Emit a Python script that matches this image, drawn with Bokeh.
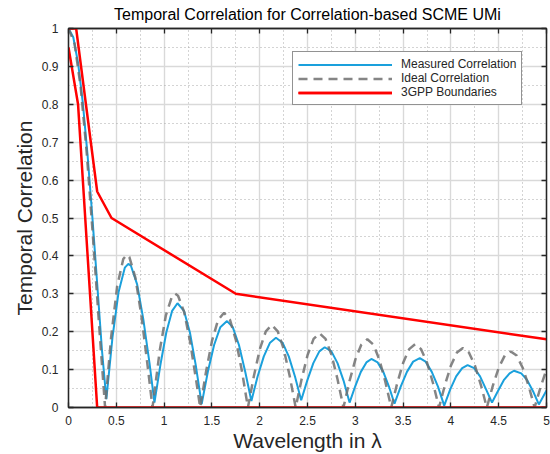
from bokeh.plotting import figure
from bokeh.models import (Range1d, LinearAxis, SingleIntervalTicker,
                          CustomJSTickFormatter, Legend, LegendItem)
from bokeh.embed import file_html
from bokeh.resources import INLINE

# ---- data ----
ideal_x = [0, 0.0637, 0.1273, 0.191, 0.2546, 0.3183, 0.3827,
           0.4456, 0.5093, 0.573, 0.6098, 0.6366, 0.7003, 0.7639, 0.8276, 0.8786,
           0.9549, 1.0186, 1.0823, 1.1166, 1.1459, 1.2096, 1.2732, 1.3369, 1.3773,
           1.4397, 1.5022, 1.5646, 1.627, 1.6894, 1.7519, 1.8143, 1.8767,
           1.9392, 2.0016, 2.0641, 2.1265, 2.189, 2.2514, 2.3139, 2.3763,
           2.4388, 2.5013, 2.5637, 2.6262, 2.6887, 2.7512, 2.8136, 2.8761,
           2.9386, 3.0011, 3.0635, 3.126, 3.1885, 3.251, 3.3134, 3.3759,
           3.4384, 3.5009, 3.5634, 3.6259, 3.6883, 3.7508, 3.8133, 3.8758,
           3.9383, 4.0008, 4.0632, 4.1257, 4.1882, 4.2507, 4.3132, 4.3757,
           4.4382, 4.5007, 4.5632, 4.6257, 4.6881, 4.7506, 4.8131, 4.8756,
           4.9381, 5.0]
ideal_y = [1.0, 0.960, 0.846, 0.671, 0.455, 0.224, 0.0,
           0.185, 0.320, 0.392, 0.403, 0.397, 0.342, 0.240, 0.110, 0.0,
           0.151, 0.243, 0.293, 0.300, 0.295, 0.252, 0.172, 0.069, 0.0,
           0.096, 0.177, 0.231, 0.250, 0.231, 0.177, 0.096, 0.0,
           0.083, 0.154, 0.201, 0.218, 0.201, 0.154, 0.083, 0.0,
           0.075, 0.139, 0.181, 0.196, 0.181, 0.139, 0.075, 0.0,
           0.069, 0.127, 0.166, 0.180, 0.166, 0.127, 0.069, 0.0,
           0.064, 0.118, 0.154, 0.167, 0.154, 0.118, 0.064, 0.0,
           0.060, 0.111, 0.145, 0.157, 0.145, 0.111, 0.060, 0.0,
           0.057, 0.105, 0.137, 0.148, 0.137, 0.105, 0.057, 0.0,
           0.054, 0.100]

meas_x = [0, 0.05, 0.1, 0.15, 0.2, 0.25, 0.3, 0.35, 0.396,
          0.46, 0.524, 0.589, 0.626, 0.653, 0.718, 0.782, 0.847, 0.899,
          0.961, 1.023, 1.084, 1.14, 1.208, 1.270, 1.331, 1.393,
          1.458, 1.523, 1.588, 1.658, 1.718, 1.783, 1.848, 1.913,
          1.978, 2.043, 2.108, 2.170, 2.239, 2.304, 2.369, 2.434,
          2.497, 2.561, 2.624, 2.680, 2.750, 2.814, 2.877, 2.94,
          2.999, 3.058, 3.116, 3.168, 3.234, 3.293, 3.351, 3.41,
          3.475, 3.540, 3.605, 3.675, 3.735, 3.800, 3.865, 3.93,
          3.993, 4.055, 4.118, 4.175, 4.243, 4.305, 4.368, 4.43,
          4.491, 4.553, 4.614, 4.660, 4.736, 4.798, 4.859, 4.92,
          5.0]
meas_y = [1.0, 0.977, 0.909, 0.803, 0.664, 0.501, 0.327, 0.151, 0.022,
          0.185, 0.305, 0.369, 0.379, 0.374, 0.325, 0.234, 0.118, 0.013,
          0.112, 0.198, 0.255, 0.275, 0.255, 0.198, 0.112, 0.009,
          0.095, 0.165, 0.212, 0.228, 0.212, 0.165, 0.095, 0.017,
          0.082, 0.135, 0.171, 0.184, 0.171, 0.135, 0.082, 0.019,
          0.071, 0.117, 0.148, 0.159, 0.148, 0.117, 0.071, 0.013,
          0.056, 0.094, 0.119, 0.128, 0.119, 0.094, 0.056, 0.010,
          0.055, 0.094, 0.121, 0.130, 0.121, 0.094, 0.055, 0.005,
          0.048, 0.082, 0.104, 0.112, 0.104, 0.082, 0.048, 0.013,
          0.043, 0.072, 0.090, 0.097, 0.090, 0.072, 0.043, 0.008,
          0.045]

upper_x = [0, 0.08, 0.3, 0.45, 1.75, 5]
upper_y = [1, 1, 0.57, 0.5, 0.3, 0.18]
lower_x = [0, 0.1, 0.3, 5]
lower_y = [0.95, 0.8, 0, 0]

title = "Temporal Correlation for Correlation-based SCME UMi"
x_label = "Wavelength in λ"
y_label = "Temporal Correlation"
legend_labels = ["Measured Correlation", "Ideal Correlation", "3GPP Boundaries"]

FONT = "Liberation Sans"
TXT = "#262626"

p = figure(width=550, height=454, x_range=Range1d(0, 5), y_range=Range1d(0, 1),
           output_backend="svg", toolbar_location=None,
           min_border_left=68, min_border_right=3, min_border_top=28, min_border_bottom=47)
p.background_fill_color = "white"
p.border_fill_color = "white"
p.outline_line_color = "#262626"
p.outline_line_width = 1.3

p.title.text = title
p.title.align = "center"
p.title.text_font = FONT
p.title.text_font_size = "16px"
p.title.text_font_style = "normal"
p.title.text_color = "black"
p.title.standoff = 4

fmt = CustomJSTickFormatter(code="return (Math.round(tick*100)/100).toString();")
blank = CustomJSTickFormatter(code="return '';")
xt = SingleIntervalTicker(interval=0.5, num_minor_ticks=2)
yt = SingleIntervalTicker(interval=0.1, num_minor_ticks=2)

for ax, tk in ((p.xaxis[0], xt), (p.yaxis[0], yt)):
    ax.ticker = tk
    ax.formatter = fmt
    ax.major_tick_in = 5
    ax.major_tick_out = 0
    ax.minor_tick_line_color = None
    ax.axis_line_color = "#262626"
    ax.axis_line_width = 1.3
    ax.major_tick_line_color = "#262626"
    ax.major_tick_line_width = 1.3
    ax.major_label_text_font = FONT
    ax.major_label_text_font_size = "12px"
    ax.major_label_text_color = TXT
    ax.axis_label_text_font = FONT
    ax.axis_label_text_font_size = "21px"
    ax.axis_label_text_font_style = "normal"
    ax.axis_label_text_color = TXT

p.xaxis[0].axis_label = x_label
p.yaxis[0].axis_label = y_label
p.xaxis[0].major_label_standoff = 4
p.xaxis[0].axis_label_standoff = 1
p.yaxis[0].major_label_standoff = 6
p.yaxis[0].axis_label_standoff = 3

for loc, tk in (("above", xt), ("right", yt)):
    ax = LinearAxis(ticker=tk, formatter=blank, major_label_standoff=0,
                    major_tick_in=5, major_tick_out=0, minor_tick_line_color=None,
                    axis_line_color="#262626", axis_line_width=1.3,
                    major_tick_line_color="#262626", major_tick_line_width=1.3)
    p.add_layout(ax, loc)

for g in (p.xgrid[0], p.ygrid[0]):
    g.grid_line_color = "#d9d9d9"
    g.grid_line_width = 1.4
    g.minor_grid_line_color = "#a8a8a8"
    g.minor_grid_line_width = 1
    g.minor_grid_line_dash = "1 3"

r_meas = p.line(meas_x, meas_y, line_color="#1aa0dc", line_width=2)
r_ideal = p.line(ideal_x, ideal_y, line_color="#707070", line_width=2.5,
                 line_dash="9 6", line_alpha=0.85)
r_up = p.line(upper_x, upper_y, line_color="#ff0000", line_width=2.5)
r_low = p.line(lower_x, lower_y, line_color="#ff0000", line_width=2.5)

legend = Legend(items=[LegendItem(label=legend_labels[0], renderers=[r_meas]),
                       LegendItem(label=legend_labels[1], renderers=[r_ideal]),
                       LegendItem(label=legend_labels[2], renderers=[r_up, r_low])],
                location=(224, 302))
legend.border_line_color = "#262626"
legend.border_line_width = 1.5
legend.background_fill_color = "white"
legend.background_fill_alpha = 1
legend.label_text_font = FONT
legend.label_text_font_size = "12px"
legend.label_text_color = TXT
legend.glyph_width = 94
legend.glyph_height = 13
legend.label_height = 13
legend.label_standoff = 9
legend.spacing = 0
legend.padding = 5
legend.margin = 0
p.add_layout(legend)

open("out.html", "w").write(file_html(p, INLINE))
